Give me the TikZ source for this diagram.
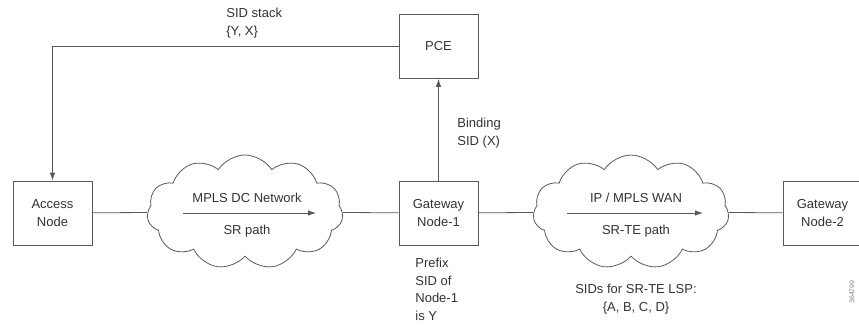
\documentclass[tikz,border=0pt]{standalone}
\usepackage{fontspec}
\setmainfont{Liberation Sans}
\usetikzlibrary{shapes.symbols,arrows.meta}

\begin{document}
\begin{tikzpicture}[x=1pt,y=-1pt,
  line width=0.8pt,
  every node/.style={font=\fontsize{13}{18}\selectfont, text=black!80},
  box/.style={draw=black!65, minimum width=79pt, minimum height=64pt, align=center, inner sep=0pt},
  net/.style={cloud, cloud puffs=11, cloud puff arc=115, aspect=1.7, draw=black!65, minimum width=196pt, minimum height=114pt, inner sep=0pt},
  lbl/.style={align=left, inner sep=0pt},
  link/.style={draw=black!65},
  arr/.style={draw=black!65, -{Latex[length=8pt,width=5.5pt]}}]
\useasboundingbox (0,0) rectangle (859,324);
% boxes
\node[box] (access) at (52.5,213) {Access\\Node};
\node[box] (gw1) at (438.5,213) {Gateway\\Node-1};
\node[box] (gw2) at (822.5,213) {Gateway\\Node-2};
\node[box] (pce) at (438.5,46.5) {PCE};
% clouds
\node[net] (dc) at (245,212) {};
\node[net] (wan) at (631,212) {};
\coordinate (dcin) at (183,213);
\coordinate (dcout) at (316,213);
\coordinate (wanin) at (567,213);
\coordinate (wanout) at (703,213);
\node (dctop) at (247,198) {MPLS DC Network};
\node (dcbot) at (247,231) {SR path};
\node (wantop) at (636,198) {IP / MPLS WAN};
\node (wanbot) at (636,231) {SR-TE path};
% links
\draw[link] (access) -- (dc);
\draw[link] (dc) -- (gw1);
\draw[link] (gw1) -- (wan);
\draw[link] (wan) -- (gw2);
\draw[arr] (dcin) -- (dcout);
\draw[arr] (wanin) -- (wanout);
\draw[arr] (gw1) -- (pce);
\draw[arr] (pce.west) -| (access.north);
% labels
\node[lbl, anchor=west] (stack) at (226,23) {SID stack\\\{Y, X\}};
\node[lbl, anchor=west] (binding) at (457,133) {Binding\\SID (X)};
\node[lbl, anchor=north west, font=\fontsize{13}{17.5}\selectfont] (prefix) at (415,258) {Prefix\\SID of\\Node-1\\is Y};
\node[align=center, inner sep=0pt] (sids) at (636,299) {SIDs for SR-TE LSP:\\\{A, B, C, D\}};
\node[rotate=90, font=\fontsize{7}{8}\selectfont, text=black!50, inner sep=0pt] (figid) at (852,292) {364799};
\end{tikzpicture}
\end{document}
